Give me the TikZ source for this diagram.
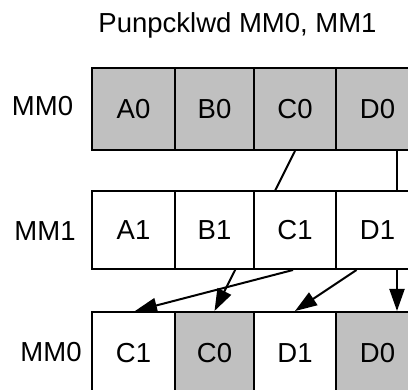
\documentclass[tikz,border=0pt]{standalone}
\usepackage{fontspec}
\setmainfont{Liberation Sans}
\usetikzlibrary{arrows.meta}

\definecolor{regfill}{HTML}{C0C0C0}

\tikzset{
  regcell/.style={draw=black, line width=2pt, rectangle, inner sep=0pt,
    minimum height=#1, font=\fontsize{27.5}{33}\selectfont},
  regcell/.default=82pt,
  shaded/.style={fill=regfill},
  plain/.style={fill=white},
  reglabel/.style={anchor=base, inner sep=0pt, font=\fontsize{27.5}{33}\selectfont},
  flow/.style={line width=2pt, -{Triangle[length=22pt, width=15pt]}}
}

\begin{document}
\begin{tikzpicture}[x=1pt, y=-1pt]
  \useasboundingbox (0,0) rectangle (408,390);
  \clip (0,0) rectangle (408,390);

  % title
  \node[reglabel] (title) at (237.5,33) {Punpcklwd MM0, MM1};

  % source register MM0
  \node[reglabel] (lbl0) at (42.5,116) {MM0};
  \node[regcell, shaded, minimum width=83pt] (a0) at (133.5,109) {A0};
  \node[regcell, shaded, minimum width=79pt] (b0) at (214.5,109) {B0};
  \node[regcell, shaded, minimum width=82pt] (c0) at (295,109) {C0};
  \node[regcell, shaded, minimum width=83pt] (d0) at (377.5,109) {D0};

  % result register MM0
  \node[reglabel] (lbl2) at (51,362) {MM0};
  \node[regcell, plain,  minimum width=83pt] (rc1) at (133.5,353) {C1};
  \node[regcell, shaded, minimum width=79pt] (rc0) at (214.5,353) {C0};
  \node[regcell, plain,  minimum width=82pt] (rd1) at (295,353) {D1};
  \node[regcell, shaded, minimum width=83pt] (rd0) at (377.5,353) {D0};

  % MM0 words travel behind the MM1 row
  \draw[flow] (c0.south) -- (rc0.north);
  \draw[flow] ([xshift=19.5pt]d0.south) -- ([xshift=19.5pt]rd0.north);

  % source register MM1
  \node[reglabel] (lbl1) at (45,241) {MM1};
  \node[regcell=78pt, plain, minimum width=83pt] (a1) at (133.5,230) {A1};
  \node[regcell=78pt, plain, minimum width=79pt] (b1) at (214.5,230) {B1};
  \node[regcell=78pt, plain, minimum width=82pt] (c1) at (295,230) {C1};
  \node[regcell=78pt, plain, minimum width=83pt] (d1) at (377.5,230) {D1};

  % MM1 words into the result
  \draw[flow] ([xshift=-2pt]c1.south) -- ([xshift=1.5pt]rc1.north);
  \draw[flow] ([xshift=-21pt]d1.south) -- (rd1.north);
\end{tikzpicture}
\end{document}
